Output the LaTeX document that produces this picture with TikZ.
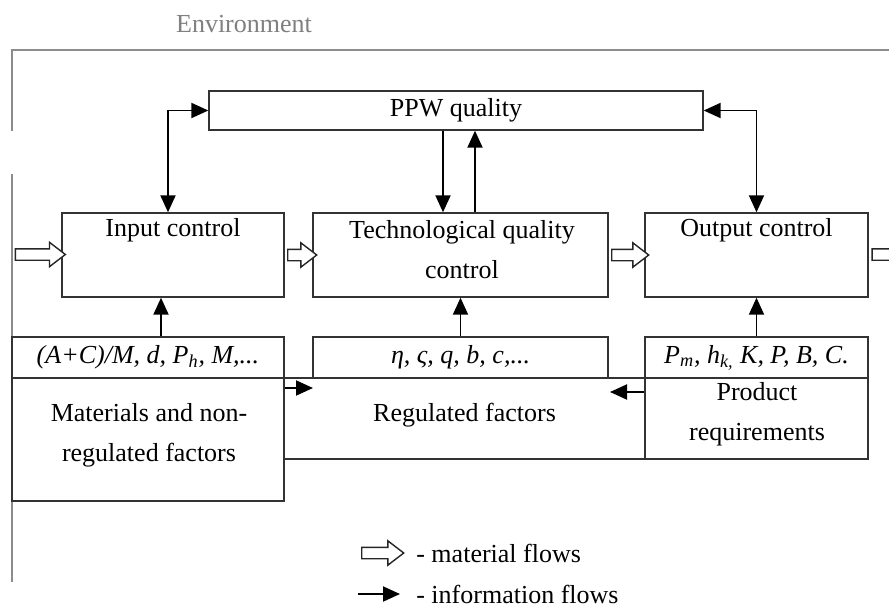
\documentclass[tikz,border=0pt]{standalone}
\usepackage{fontspec}
\setmainfont{Liberation Serif}
\usetikzlibrary{arrows.meta,shapes.arrows}

\begin{document}
\begin{tikzpicture}[x=0.02cm,y=-0.02cm,
    font=\fontsize{14.8}{22.7}\selectfont,
    box/.style={draw=black!80,line width=0.8pt,rectangle,inner sep=0pt},
    txt/.style={inner sep=0pt,align=center},
    envline/.style={draw=black!45,line width=1.2pt},
    info/.style={line width=1.1pt,-{Triangle[length=0.34cm,width=0.3cm]}},
    infoboth/.style={line width=1.1pt,{Triangle[length=0.34cm,width=0.3cm]}-{Triangle[length=0.34cm,width=0.3cm]}},
    matflow/.style={single arrow,draw=black!85,line width=0.8pt,fill=white,inner xsep=0pt,inner ysep=0.1cm,
        single arrow head extend=0.13cm,single arrow tip angle=75}]

            \clip (0,0) rectangle (889,608);
            \fill[white] (0,0) rectangle (889,608);

            \node[txt,text=black!50] (envtxt) at (244,24) {Environment};
            \draw[envline] (12,131) -- (12,50) -- (900,50);
            \draw[envline] (12,174) -- (12,582);

            \node[box,minimum width=9.88cm,minimum height=0.78cm] (ppw) at (456,110.5) {PPW quality};

            \node[box,minimum width=4.44cm,minimum height=1.68cm] (inctl) at (173,255) {};
            \node[box,minimum width=5.9cm,minimum height=1.68cm] (tech) at (460.5,255) {};
            \node[box,minimum width=4.46cm,minimum height=1.68cm] (outctl) at (756.5,255) {};
            \node[txt] (inctltxt) at (173,230) {Input control};
            \node[txt] (techtxt) at (462,250) {Technological quality\\control};
            \node[txt] (outctltxt) at (756.5,230) {Output control};

            \node[box,minimum width=5.44cm,minimum height=0.82cm] (inpar) at (148,357.5) {\textit{(A+C)/M, d, P\textsubscript{h}, M,...}};
            \node[box,minimum width=5.9cm,minimum height=0.82cm] (techpar) at (460.5,357.5) {\textit{η, ς, q, b, c,...}};
            \node[box,minimum width=4.46cm,minimum height=0.82cm] (outpar) at (756.5,357.5) {\textit{P\textsubscript{m}, h\textsubscript{k,} K, P, B, C.}};

            \node[box,minimum width=5.44cm,minimum height=2.46cm] (mat) at (148,439.5) {};
            \node[box,minimum width=7.22cm,minimum height=1.62cm] (reg) at (464.5,418.5) {};
            \node[box,minimum width=4.46cm,minimum height=1.62cm] (prod) at (756.5,418.5) {};
            \node[txt] (mattxt) at (149,435) {Materials and non-\\regulated factors};
            \node[txt] (regtxt) at (464.5,415) {Regulated factors};
            \node[txt] (prodtxt) at (757,414) {Product\\requirements};

            \coordinate (envin) at (12,254);
            \coordinate (envout) at (920,254);
            \path (envin) -- node[matflow,minimum height=1cm] {} (inctl.west);
            \path (inctl.east) -- node[matflow,minimum height=0.58cm] {} (tech.west);
            \path (tech.east) -- node[matflow,minimum height=0.74cm] {} (outctl.west);
            \path (outctl.east) -- node[matflow,minimum height=1.04cm] {} (envout);

            \draw[infoboth] (ppw.west) -| ([xshift=-0.1cm]inctl.north);
            \draw[infoboth] (ppw.east) -| (outctl.north);
            \draw[info] ([xshift=-0.35cm]tech.north |- ppw.south) -- ([xshift=-0.35cm]tech.north);
            \draw[info] ([xshift=0.29cm]tech.north) -- ([xshift=0.29cm]tech.north |- ppw.south);

            \draw[info] ([xshift=-0.24cm]inctl.south |- inpar.north) -- ([xshift=-0.24cm]inctl.south);
            \draw[info] (techpar.north) -- (tech.south);
            \draw[info] (outpar.north) -- (outctl.south);

            \coordinate (m2) at (313,388);
            \coordinate (p2) at (610,392);
            \draw[info] (mat.east |- m2) -- (m2);
            \draw[info] (prod.west |- p2) -- (p2);

            \coordinate (lgm1) at (358,553);
            \coordinate (lgm2) at (400,553);
            \coordinate (lgi1) at (358,594);
            \coordinate (lgi2) at (400,594);
            \path (lgm1) -- node[matflow,minimum height=0.84cm] {} (lgm2);
            \draw[info] (lgi1) -- (lgi2);
            \node[txt,anchor=west] (lgmtxt) at (416,553) {- material flows};
            \node[txt,anchor=west] (lgitxt) at (416,594) {- information flows};

        \end{tikzpicture}
\end{document}
